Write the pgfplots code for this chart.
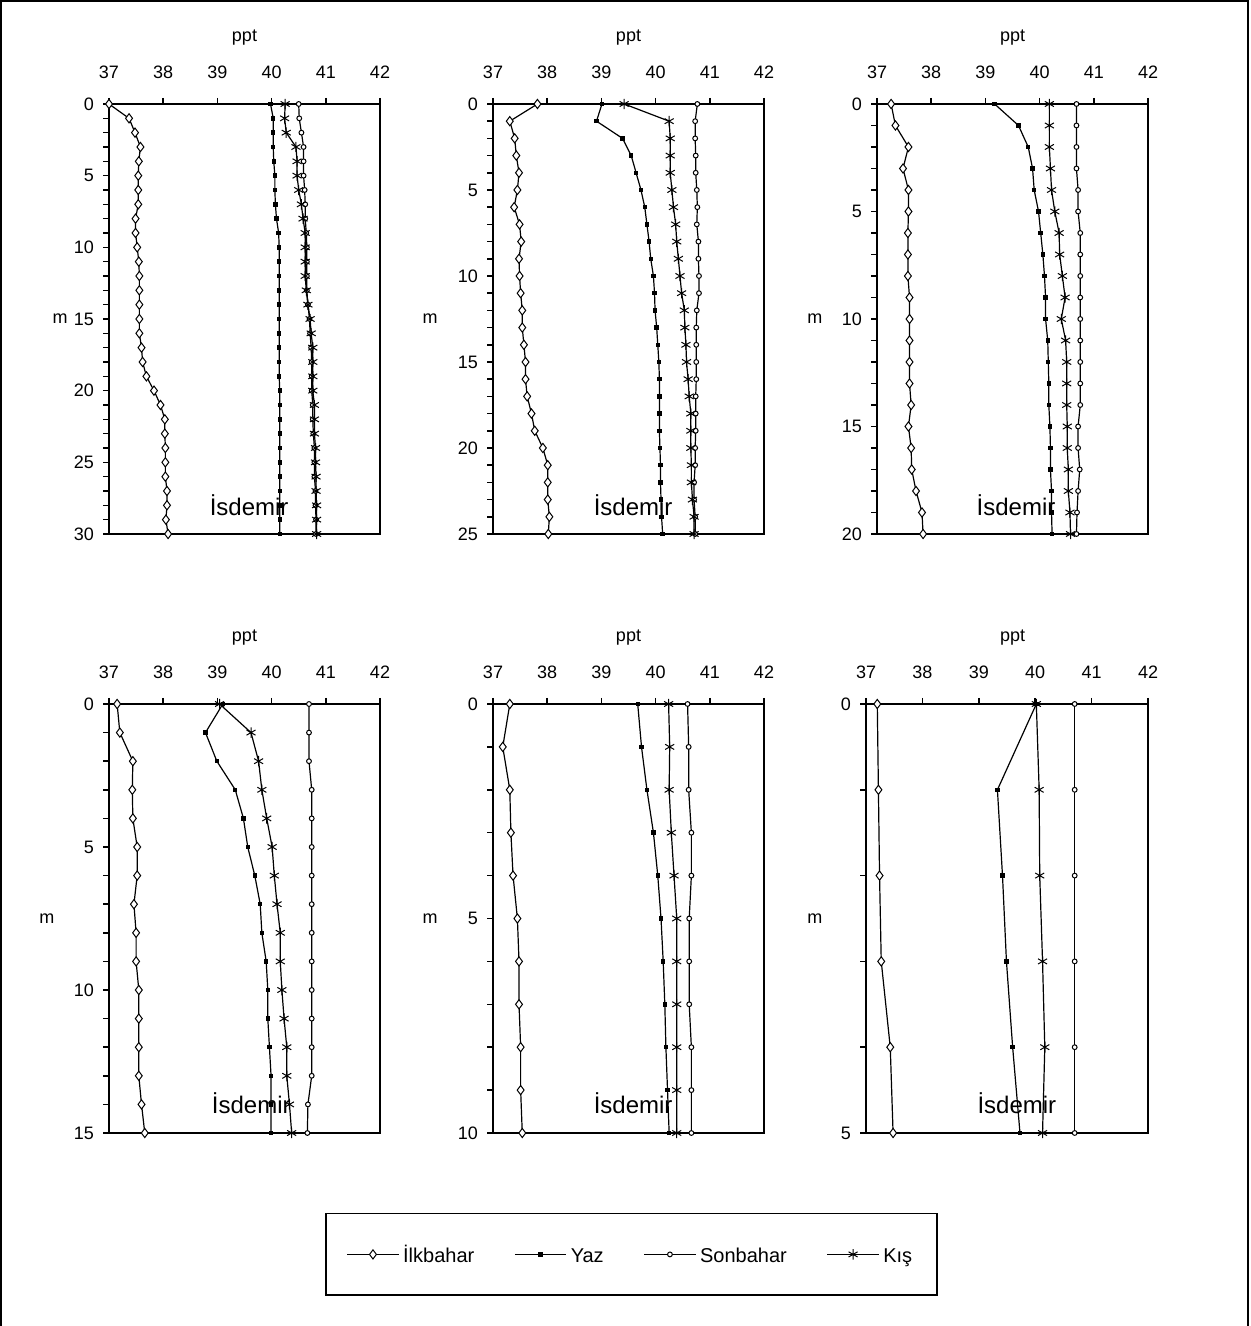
\documentclass[border=0pt]{standalone}
\usepackage{fontspec}
\setmainfont{Liberation Sans}
\usepackage{pgfplots}
\pgfplotsset{compat=1.18}
\newcommand{\tf}{\fontsize{9}{10}\selectfont}
\pgfplotsset{
  panel/.style={
    scale only axis, width=135.5pt, height=215pt,
    y dir=reverse, xmin=37, xmax=42, xtick={37,38,39,40,41,42},
    xtick pos=right, xticklabel pos=right, ytick pos=left,
    tick align=outside, major tick length=3pt, minor tick length=3pt,
    axis line style={line width=0.9pt},
    every tick/.style={black, line width=0.8pt},
    tick label style={font=\tf},
    label style={font=\tf},
    /pgf/number format/assume math mode=true,
    xticklabel shift=6pt, yticklabel shift=1pt,
    xlabel=ppt, ylabel=m,
    xlabel style={at={(axis description cs:0.5,1)}, anchor=center, yshift=33pt},
    clip=false,
  },
  ilk/.style={black, line width=0.6pt, mark=diamond*, mark size=2.3pt, mark options={fill=white, line width=0.5pt}},
  yaz/.style={black, line width=0.6pt, mark=square*, mark size=0.8pt},
  son/.style={black, line width=0.6pt, mark=*, mark size=1.2pt, mark options={fill=white, line width=0.5pt}},
  kis/.style={black, line width=0.6pt, mark=asterisk, mark size=2.6pt, mark options={line width=0.5pt}},
}
\newcommand{\isd}[1]{\node[font=\fontsize{12}{13}\selectfont] at (axis description cs:#1) {İsdemir};}
\begin{document}
\begin{tikzpicture}
\useasboundingbox (0,0) rectangle (625pt,663pt);
\draw[line width=0.8pt] (0.6pt,0) -- (0.6pt,662.4pt) -- (624pt,662.4pt) -- (624pt,0);

% Panel 1
\begin{axis}[panel, at={(54.5pt,611pt)}, anchor=north west,
  ymin=0, ymax=30, ytick={0,5,...,30}, minor ytick={0,...,30},
  ylabel style={at={(axis description cs:-0.18,0.5)}, rotate=-90, anchor=center}]
\addplot[ilk] coordinates {(37.00,0)(37.37,1)(37.48,2)(37.58,3)(37.55,4)(37.54,5)(37.54,6)(37.54,7)(37.49,8)(37.49,9)(37.52,10)(37.55,11)(37.56,12)(37.56,13)(37.56,14)(37.56,15)(37.56,16)(37.60,17)(37.62,18)(37.69,19)(37.83,20)(37.95,21)(38.03,22)(38.03,23)(38.04,24)(38.04,25)(38.04,26)(38.07,27)(38.07,28)(38.05,29)(38.09,30)};
\addplot[yaz] coordinates {(39.98,0)(40.03,1)(40.03,2)(40.03,3)(40.04,4)(40.06,5)(40.06,6)(40.07,7)(40.09,8)(40.13,9)(40.14,10)(40.14,11)(40.14,12)(40.14,13)(40.14,14)(40.14,15)(40.14,16)(40.14,17)(40.14,18)(40.14,19)(40.15,20)(40.15,21)(40.15,22)(40.15,23)(40.15,24)(40.15,25)(40.15,26)(40.15,27)(40.15,28)(40.15,29)(40.15,30)};
\addplot[son] coordinates {(40.50,0)(40.51,1)(40.55,2)(40.59,3)(40.59,4)(40.59,5)(40.61,6)(40.62,7)(40.62,8)(40.64,9)(40.65,10)(40.65,11)(40.65,12)(40.65,13)(40.67,14)(40.70,15)(40.71,16)(40.73,17)(40.74,18)(40.74,19)(40.74,20)(40.76,21)(40.76,22)(40.77,23)(40.79,24)(40.79,25)(40.79,26)(40.81,27)(40.81,28)(40.82,29)(40.82,30)};
\addplot[kis] coordinates {(40.25,0)(40.24,1)(40.27,2)(40.45,3)(40.47,4)(40.47,5)(40.50,6)(40.55,7)(40.58,8)(40.62,9)(40.62,10)(40.62,11)(40.62,12)(40.64,13)(40.67,14)(40.71,15)(40.73,16)(40.76,17)(40.76,18)(40.76,19)(40.76,20)(40.79,21)(40.79,22)(40.79,23)(40.81,24)(40.81,25)(40.82,26)(40.82,27)(40.83,28)(40.83,29)(40.83,30)};
\isd{0.517,0.067}
\end{axis}

% Panel 2
\begin{axis}[panel, at={(246.5pt,611pt)}, anchor=north west,
  ymin=0, ymax=25, ytick={0,5,...,25}, minor ytick={0,...,25},
  ylabel style={at={(axis description cs:-0.232,0.5)}, rotate=-90, anchor=center}]
\addplot[ilk] coordinates {(37.82,0)(37.31,1)(37.40,2)(37.43,3)(37.48,4)(37.45,5)(37.39,6)(37.49,7)(37.52,8)(37.48,9)(37.49,10)(37.51,11)(37.54,12)(37.54,13)(37.57,14)(37.60,15)(37.60,16)(37.63,17)(37.71,18)(37.77,19)(37.92,20)(38.01,21)(38.01,22)(38.01,23)(38.04,24)(38.02,25)};
\addplot[yaz] coordinates {(39.01,0)(38.91,1)(39.39,2)(39.55,3)(39.64,4)(39.73,5)(39.80,6)(39.84,7)(39.88,8)(39.91,9)(39.96,10)(39.98,11)(39.99,12)(40.02,13)(40.04,14)(40.06,15)(40.07,16)(40.07,17)(40.07,18)(40.07,19)(40.08,20)(40.09,21)(40.09,22)(40.10,23)(40.11,24)(40.13,25)};
\addplot[son] coordinates {(40.77,0)(40.73,1)(40.73,2)(40.74,3)(40.74,4)(40.76,5)(40.77,6)(40.76,7)(40.79,8)(40.79,9)(40.80,10)(40.80,11)(40.76,12)(40.75,13)(40.75,14)(40.75,15)(40.75,16)(40.74,17)(40.74,18)(40.74,19)(40.73,20)(40.73,21)(40.71,22)(40.71,23)(40.73,24)(40.73,25)};
\addplot[kis] coordinates {(39.42,0)(40.25,1)(40.27,2)(40.27,3)(40.27,4)(40.30,5)(40.33,6)(40.37,7)(40.39,8)(40.42,9)(40.45,10)(40.48,11)(40.53,12)(40.54,13)(40.56,14)(40.57,15)(40.60,16)(40.62,17)(40.65,18)(40.65,19)(40.65,20)(40.66,21)(40.66,22)(40.68,23)(40.71,24)(40.71,25)};
\isd{0.517,0.067}
\end{axis}

% Panel 3
\begin{axis}[panel, at={(438.5pt,611pt)}, anchor=north west,
  ymin=0, ymax=20, ytick={0,5,...,20}, minor ytick={0,...,20},
  ylabel style={at={(axis description cs:-0.229,0.5)}, rotate=-90, anchor=center}]
\addplot[ilk] coordinates {(37.26,0)(37.34,1)(37.58,2)(37.48,3)(37.58,4)(37.58,5)(37.57,6)(37.57,7)(37.57,8)(37.60,9)(37.60,10)(37.60,11)(37.60,12)(37.60,13)(37.63,14)(37.58,15)(37.63,16)(37.64,17)(37.72,18)(37.83,19)(37.85,20)};
\addplot[yaz] coordinates {(39.17,0)(39.61,1)(39.79,2)(39.87,3)(39.90,4)(39.98,5)(40.02,6)(40.06,7)(40.09,8)(40.11,9)(40.11,10)(40.15,11)(40.16,12)(40.17,13)(40.17,14)(40.19,15)(40.20,16)(40.20,17)(40.22,18)(40.22,19)(40.23,20)};
\addplot[son] coordinates {(40.68,0)(40.68,1)(40.68,2)(40.68,3)(40.71,4)(40.71,5)(40.75,6)(40.75,7)(40.75,8)(40.75,9)(40.75,10)(40.75,11)(40.75,12)(40.75,13)(40.75,14)(40.71,15)(40.71,16)(40.74,17)(40.71,18)(40.69,19)(40.68,20)};
\addplot[kis] coordinates {(40.18,0)(40.18,1)(40.18,2)(40.20,3)(40.22,4)(40.28,5)(40.36,6)(40.37,7)(40.42,8)(40.47,9)(40.40,10)(40.48,11)(40.50,12)(40.50,13)(40.50,14)(40.51,15)(40.51,16)(40.53,17)(40.53,18)(40.56,19)(40.57,20)};
\isd{0.513,0.067}
\end{axis}

% Panel 4
\begin{axis}[panel, at={(54.5pt,311pt)}, anchor=north west, height=214.5pt,
  ymin=0, ymax=15, ytick={0,5,...,15}, minor ytick={0,...,15},
  ylabel style={at={(axis description cs:-0.229,0.5)}, rotate=-90, anchor=center}]
\addplot[ilk] coordinates {(37.15,0)(37.20,1)(37.44,2)(37.43,3)(37.44,4)(37.52,5)(37.52,6)(37.46,7)(37.50,8)(37.50,9)(37.55,10)(37.55,11)(37.55,12)(37.55,13)(37.60,14)(37.66,15)};
\addplot[yaz] coordinates {(39.10,0)(38.78,1)(38.99,2)(39.33,3)(39.48,4)(39.56,5)(39.69,6)(39.79,7)(39.82,8)(39.90,9)(39.93,10)(39.93,11)(39.96,12)(39.99,13)(39.99,14)(39.99,15)};
\addplot[son] coordinates {(40.69,0)(40.69,1)(40.69,2)(40.74,3)(40.74,4)(40.74,5)(40.74,6)(40.74,7)(40.74,8)(40.74,9)(40.74,10)(40.74,11)(40.74,12)(40.74,13)(40.67,14)(40.66,15)};
\addplot[kis] coordinates {(39.04,0)(39.62,1)(39.76,2)(39.82,3)(39.91,4)(40.01,5)(40.05,6)(40.10,7)(40.16,8)(40.16,9)(40.19,10)(40.23,11)(40.28,12)(40.28,13)(40.33,14)(40.37,15)};
\isd{0.525,0.070}
\end{axis}

% Panel 5
\begin{axis}[panel, at={(246.5pt,311pt)}, anchor=north west, height=214.5pt,
  ymin=0, ymax=10, ytick={0,5,10}, minor ytick={0,...,10},
  ylabel style={at={(axis description cs:-0.232,0.5)}, rotate=-90, anchor=center},
  legend columns=4,
  legend style={at={(axis description cs:0.511,-0.283)}, anchor=center, draw=black, line width=0.8pt,
    font=\fontsize{10}{11}\selectfont, inner xsep=10.5pt, inner ysep=13pt,
    /tikz/every even column/.append style={column sep=18pt, text height=1.75ex, text depth=0.55ex}},
  legend image code/.code={\draw[mark repeat=2, mark phase=2] plot coordinates {(0cm,0cm) (0.45cm,0cm) (0.9cm,0cm)};}]
\addplot[ilk] coordinates {(37.31,0)(37.18,1)(37.31,2)(37.33,3)(37.37,4)(37.45,5)(37.48,6)(37.48,7)(37.51,8)(37.51,9)(37.54,10)};
\addplot[yaz] coordinates {(39.67,0)(39.74,1)(39.84,2)(39.96,3)(40.04,4)(40.10,5)(40.14,6)(40.17,7)(40.19,8)(40.22,9)(40.25,10)};
\addplot[son] coordinates {(40.59,0)(40.61,1)(40.61,2)(40.66,3)(40.66,4)(40.62,5)(40.62,6)(40.62,7)(40.66,8)(40.66,9)(40.66,10)};
\addplot[kis] coordinates {(40.24,0)(40.26,1)(40.25,2)(40.29,3)(40.34,4)(40.39,5)(40.39,6)(40.39,7)(40.39,8)(40.39,9)(40.39,10)};
\legend{İlkbahar, Yaz, Sonbahar, Kış}
\isd{0.517,0.070}
\end{axis}

% Panel 6
\begin{axis}[panel, at={(433pt,311pt)}, anchor=north west, width=141pt, height=214.5pt,
  ymin=0, ymax=5, ytick={0,5}, minor ytick={0,...,5},
  xlabel style={at={(axis description cs:0.52,1)}},
  ylabel style={at={(axis description cs:-0.181,0.5)}, rotate=-90, anchor=center}]
\addplot[ilk] coordinates {(37.20,0)(37.22,1)(37.24,2)(37.27,3)(37.43,4)(37.48,5)};
\addplot[yaz] coordinates {(40.02,0)(39.33,1)(39.42,2)(39.49,3)(39.60,4)(39.73,5)};
\addplot[son] coordinates {(40.70,0)(40.70,1)(40.70,2)(40.70,3)(40.70,4)(40.70,5)};
\addplot[kis] coordinates {(40.02,0)(40.07,1)(40.08,2)(40.13,3)(40.17,4)(40.13,5)};
\isd{0.535,0.070}
\end{axis}
\end{tikzpicture}
\end{document}
